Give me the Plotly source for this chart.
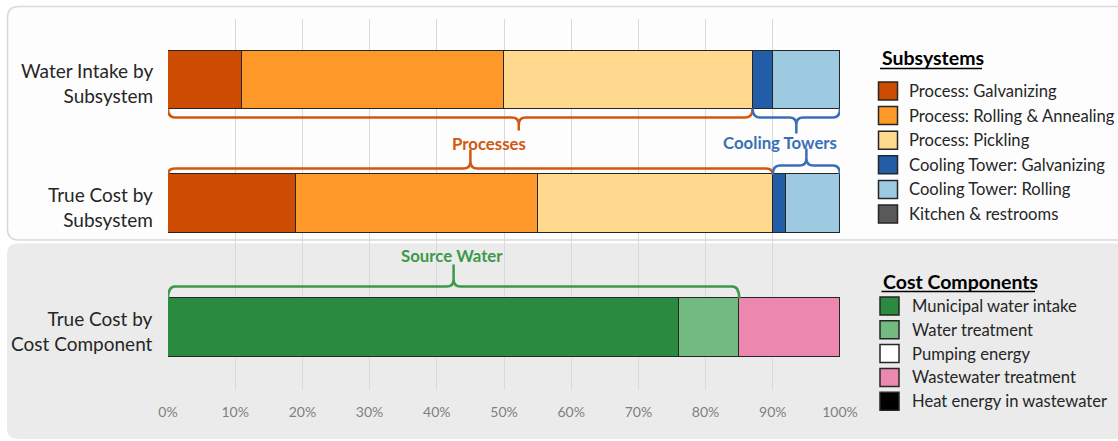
import plotly.graph_objects as go

# ---- data -------------------------------------------------------------
row_labels = ["Water Intake by<br>Subsystem",
              "True Cost by<br>Subsystem",
              "True Cost by<br>Cost Component"]

subsystems = ["Process: Galvanizing", "Process: Rolling & Annealing",
              "Process: Pickling", "Cooling Tower: Galvanizing",
              "Cooling Tower: Rolling", "Kitchen & restrooms"]
subsystem_colors = ["#cc4c02", "#fe9929", "#fed98e", "#225ea8", "#9ecae1", "#595959"]
intake_share = [11, 39, 37, 3, 10, 0]      # % of water intake
subsystem_cost_share = [19, 36, 35, 2, 8, 0]  # % of true cost

components = ["Municipal water intake", "Water treatment", "Pumping energy",
              "Wastewater treatment", "Heat energy in wastewater"]
component_colors = ["#2a8a40", "#72bb80", "#ffffff", "#ec88b0", "#000000"]
component_share = [76, 9, 0, 15, 0]

x_ticks = list(range(0, 101, 10))

# ---- geometry ---------------------------------------------------------
W, H = 1118, 441
L, R, T, B = 168, 278, 19, 51
PW, PH = W - L - R, H - T - B
YMIN, YMAX = -0.504, 2.488
BAR_W = 0.468
ROW_Y = [2, 1, 0]
FONT = "Lato"
TXT = "#262626"


def px_x(v):
    return L + PW * v / 100.0


def px_y(v):
    return T + PH * (YMAX - v) / (YMAX - YMIN)


def to_x(px):
    return (px - L) / PW * 100.0


def to_y(py):
    return YMAX - (py - T) / PH * (YMAX - YMIN)


def paper_x(px):
    return (px - L) / PW


def paper_y(py):
    return (T + PH - py) / PH


def cumulative(vals):
    out, s = [0], 0
    for v in vals:
        s += v
        out.append(s)
    return out


def brace(x0, x1, xtip, y_edge, y_line, y_tip, r=7):
    """Curly brace in pixel space, converted to data coordinates."""
    a, b, t = px_x(x0), px_x(x1), px_x(xtip)
    s = 1 if y_tip > y_line else -1
    pts = [
        ("M", [(a, y_edge)]),
        ("Q", [(a, y_line), (a + r, y_line)]),
        ("L", [(t - r, y_line)]),
        ("Q", [(t, y_line), (t, y_line + s * r)]),
        ("L", [(t, y_tip)]),
        ("M", [(t, y_line + s * r)]),
        ("Q", [(t, y_line), (t + r, y_line)]),
        ("L", [(b - r, y_line)]),
        ("Q", [(b, y_line), (b, y_edge)]),
    ]
    path = ""
    for cmd, coords in pts:
        path += cmd + " ".join(f"{to_x(px):.4f},{to_y(py):.5f}" for px, py in coords) + " "
    return path.strip()


fig = go.Figure()

# ---- stacked bars -----------------------------------------------------
for name, col, a, c in zip(subsystems, subsystem_colors, intake_share, subsystem_cost_share):
    fig.add_trace(go.Bar(
        y=[ROW_Y[0], ROW_Y[1]], x=[a, c], orientation="h", name=name,
        marker=dict(color=col, line=dict(color="#262626", width=1.5)),
        width=BAR_W, showlegend=False, hoverinfo="x+name"))

for name, col, v in zip(components, component_colors, component_share):
    fig.add_trace(go.Bar(
        y=[ROW_Y[2]], x=[v], orientation="h", name=name,
        marker=dict(color=col, line=dict(color="#262626", width=1.5)),
        width=BAR_W, showlegend=False, hoverinfo="x+name"))

shapes = []
annotations = []

# ---- panel backgrounds ------------------------------------------------
def rounded_rect(x0, y0, x1, y1, r):
    return (f"M {paper_x(x0 + r)},{paper_y(y0)} L {paper_x(x1)},{paper_y(y0)} "
            f"L {paper_x(x1)},{paper_y(y1)} L {paper_x(x0 + r)},{paper_y(y1)} "
            f"Q {paper_x(x0)},{paper_y(y1)} {paper_x(x0)},{paper_y(y1 - r)} "
            f"L {paper_x(x0)},{paper_y(y0 + r)} "
            f"Q {paper_x(x0)},{paper_y(y0)} {paper_x(x0 + r)},{paper_y(y0)} Z")


shapes.append(dict(type="path", xref="paper", yref="paper", layer="below",
                   path=rounded_rect(7.5, 6.5, 1130, 240, 11),
                   fillcolor="#fdfdfd", line=dict(color="#d9d9d9", width=1.5)))
shapes.append(dict(type="path", xref="paper", yref="paper", layer="below",
                   path=rounded_rect(7, 243.5, 1130, 439, 11),
                   fillcolor="#ebebeb", line=dict(width=0)))

# ---- braces -----------------------------------------------------------
orange, blue, green = "#d2570f", "#3a6fb8", "#3a9a4a"
cum_intake = cumulative(intake_share)
cum_cost = cumulative(subsystem_cost_share)
cum_comp = cumulative(component_share)

r1_bottom = px_y(ROW_Y[0] - BAR_W / 2)
r2_top = px_y(ROW_Y[1] + BAR_W / 2)
r3_top = px_y(ROW_Y[2] + BAR_W / 2)

proc_end_1, proc_end_2 = cum_intake[3], cum_cost[3]
ct_end_1, ct_end_2 = cum_intake[5], cum_cost[5]
src_end = cum_comp[2]

brace_specs = [
    (0, proc_end_1, 0.6 * proc_end_1, r1_bottom, r1_bottom + 9, r1_bottom + 22, orange),
    (proc_end_1, ct_end_1, (proc_end_1 + ct_end_1) / 2, r1_bottom, r1_bottom + 9, r1_bottom + 25, blue),
    (0, proc_end_2, 0.5 * proc_end_2, r2_top, r2_top - 6, r2_top - 25, orange),
    (proc_end_2, ct_end_2, (proc_end_2 + ct_end_2) / 2, r2_top, r2_top - 9, r2_top - 26, blue),
    (0, src_end, src_end / 2, r3_top, r3_top - 12, r3_top - 34, green),
]
for x0, x1, xt, ye, yl, yt, col in brace_specs:
    shapes.append(dict(type="path", xref="x", yref="y", layer="above",
                       path=brace(x0, x1, xt, ye, yl, yt),
                       line=dict(color=col, width=2.5)))

for text, cx, cy, col in [("Processes", 489, 143, orange),
                          ("Cooling Towers", 780, 142, blue),
                          ("Source Water", 452, 255, green)]:
    annotations.append(dict(text=f"<b>{text}</b>", xref="paper", yref="paper",
                            x=paper_x(cx), y=paper_y(cy), showarrow=False,
                            xanchor="center", yanchor="middle",
                            font=dict(family=FONT, size=16.8, color=col)))

# ---- row labels -------------------------------------------------------
for lab, yv in zip(row_labels, ROW_Y):
    annotations.append(dict(text=lab, xref="paper", yref="y", x=paper_x(155), y=yv,
                            showarrow=False, xanchor="right", yanchor="middle",
                            align="right", yshift=-3,
                            font=dict(family=FONT, size=19, color=TXT)))

# ---- legends ----------------------------------------------------------
def legend_block(title, title_y, underline_x1, names, colors, first_y, step, box_x, text_x):
    annotations.append(dict(text=f"<b>{title}</b>", xref="paper", yref="paper",
                            x=paper_x(box_x + 1), y=paper_y(title_y), showarrow=False,
                            xanchor="left", yanchor="middle",
                            font=dict(family=FONT, size=19.5, color="#000000")))
    shapes.append(dict(type="line", xref="paper", yref="paper",
                       x0=paper_x(box_x + 1.5), x1=paper_x(underline_x1),
                       y0=paper_y(title_y + 10.5), y1=paper_y(title_y + 10.5),
                       line=dict(color="#000000", width=1.5)))
    for i, (n, c) in enumerate(zip(names, colors)):
        cy = first_y + i * step
        shapes.append(dict(type="rect", xref="paper", yref="paper",
                           x0=paper_x(box_x), x1=paper_x(box_x + 19),
                           y0=paper_y(cy - 9), y1=paper_y(cy + 9),
                           fillcolor=c, line=dict(color="#262626", width=1.5)))
        annotations.append(dict(text=n, xref="paper", yref="paper",
                                x=paper_x(text_x), y=paper_y(cy), showarrow=False,
                                xanchor="left", yanchor="middle",
                                font=dict(family=FONT, size=16.6, color=TXT)))


legend_block("Subsystems", 58, 982, subsystems, subsystem_colors, 91, 24.6, 878.5, 907)
legend_block("Cost Components", 281, 1035, components, component_colors, 306, 23.8, 880, 910)

fig.update_layout(
    width=W, height=H,
    margin=dict(l=L, r=R, t=T, b=B, pad=0),
    barmode="stack",
    bargap=0,
    paper_bgcolor="#ffffff",
    plot_bgcolor="rgba(0,0,0,0)",
    shapes=shapes,
    annotations=annotations,
    showlegend=False,
    xaxis=dict(range=[0, 100], tickvals=x_ticks,
               ticktext=[f"{v}%" for v in x_ticks],
               showgrid=True, gridcolor="#d9d9d9", gridwidth=1,
               zeroline=False, showline=False,
               ticks="outside", ticklen=9, tickcolor="rgba(0,0,0,0)",
               tickfont=dict(family=FONT, size=14, color="#7f7f7f"),
               fixedrange=True),
    yaxis=dict(range=[YMIN, YMAX], showticklabels=False, showgrid=False,
               zeroline=False, showline=False, fixedrange=True),
    font=dict(family=FONT),
)

fig.write_html("out.html")
